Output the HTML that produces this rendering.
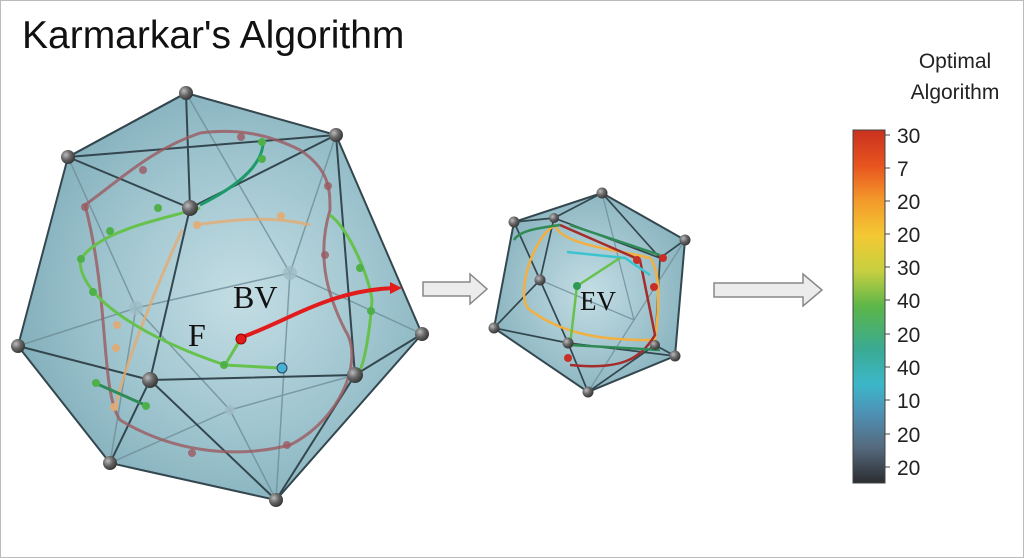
<!DOCTYPE html>
<html><head><meta charset="utf-8"><style>
body{margin:0;background:#fff}
svg{display:block}
text{font-family:"Liberation Sans",sans-serif}
</style></head><body>
<svg width="1024" height="558" viewBox="0 0 1024 558" xmlns="http://www.w3.org/2000/svg">
<defs>
<radialGradient id="g1" cx="0.55" cy="0.5" r="0.6">
<stop offset="0" stop-color="#c4dde4"/><stop offset="0.6" stop-color="#9cc3cd"/><stop offset="1" stop-color="#7eabb8"/></radialGradient>
<radialGradient id="g2" cx="0.5" cy="0.5" r="0.6">
<stop offset="0" stop-color="#c4dde4"/><stop offset="1" stop-color="#82afbb"/></radialGradient>
<radialGradient id="ball" cx="0.35" cy="0.35" r="0.7">
<stop offset="0" stop-color="#bbb"/><stop offset="0.5" stop-color="#666"/><stop offset="1" stop-color="#333"/></radialGradient>
<linearGradient id="cb" x1="0" y1="0" x2="0" y2="1">
<stop offset="0" stop-color="#c9301f"/><stop offset="0.1" stop-color="#e8541f"/><stop offset="0.2" stop-color="#f39a2a"/><stop offset="0.3" stop-color="#f3c933"/><stop offset="0.4" stop-color="#c6cf40"/><stop offset="0.5" stop-color="#5cb649"/><stop offset="0.62" stop-color="#3aaa92"/><stop offset="0.72" stop-color="#3cb7c9"/><stop offset="0.8" stop-color="#4e92b6"/><stop offset="0.9" stop-color="#55697d"/><stop offset="1" stop-color="#2b2d30"/></linearGradient>
</defs>
<rect x="0.5" y="0.5" width="1023" height="557" fill="#fff" stroke="#bbb"/>
<text x="22" y="48" font-size="39" fill="#111">Karmarkar's Algorithm</text>

<polygon points="186,93 336,135 422,334 276,500 110,463 18,346 68,157" fill="url(#g1)" stroke="#34474f" stroke-width="2"/>
<g stroke="#6e8d97" stroke-width="1.5" fill="none" opacity="0.8">
<path d="M186,93 L290,273 L422,334 M290,273 L136,308 L18,346 M136,308 L110,463 M290,273 L276,500 M136,308 L68,157 M290,273 L336,135 M136,308 L230,410 L355,375 M230,410 L110,463 M230,410 L276,500"/>
</g>
<g stroke="#34474f" stroke-width="2" fill="none">
<path d="M68,157 L190,208 L336,135 M186,93 L190,208 M190,208 L150,380 L18,346 M150,380 L355,375 L336,135 M355,375 L422,334 M355,375 L276,500 M150,380 L276,500 M150,380 L110,463 M68,157 L336,135 M186,93 L68,157"/>
</g>
<g fill="none" stroke-width="3">
<path d="M85,205 C120,180 150,150 200,133 C240,128 270,135 300,150 C330,170 330,190 330,210 C315,260 330,300 345,330 C365,360 340,420 290,445 C230,460 170,450 120,420 C100,390 110,300 85,205 Z" stroke="#9b5a5f" opacity="0.8"/>
<path d="M195,225 C230,220 270,215 310,225 M182,230 C150,300 120,380 115,410" stroke="#e3ab73" opacity="0.8"/>
<path d="M200,208 C160,220 100,230 80,260 C80,300 150,340 225,365 L280,368 M330,215 C350,230 370,280 372,300 C370,330 365,360 360,370" stroke="#66c24d"/>
<path d="M200,205 C230,190 260,170 263,145" stroke="#1d9a6a"/>
<path d="M95,383 L145,405" stroke="#2f8a55"/>
<path d="M240,338 C290,320 330,290 395,288" stroke="#e21c1c" stroke-width="4"/>
<path d="M225,365 L240,340" stroke="#66c24d"/>
</g>
<polygon points="390,282 402,288 390,294" fill="#e21c1c"/>
<g fill="#9b5a5f" opacity="0.8"><circle cx="85" cy="207" r="4"/><circle cx="143" cy="170" r="4"/><circle cx="241" cy="137" r="4"/><circle cx="328" cy="186" r="4"/><circle cx="325" cy="255" r="4"/><circle cx="192" cy="453" r="4"/><circle cx="287" cy="445" r="4"/></g>
<g fill="#e3ab73" opacity="0.9"><circle cx="197" cy="225" r="4"/><circle cx="281" cy="216" r="4"/><circle cx="117" cy="325" r="4"/><circle cx="116" cy="348" r="4"/><circle cx="114" cy="407" r="4"/></g>
<g fill="#4fb04a"><circle cx="81" cy="259" r="4"/><circle cx="93" cy="292" r="4"/><circle cx="110" cy="231" r="4"/><circle cx="158" cy="208" r="4"/><circle cx="224" cy="365" r="4"/><circle cx="360" cy="268" r="4"/><circle cx="371" cy="311" r="4"/><circle cx="262" cy="142" r="4"/><circle cx="262" cy="159" r="4"/><circle cx="146" cy="406" r="4"/><circle cx="96" cy="383" r="4"/></g>
<circle cx="241" cy="339" r="5" fill="#e21c1c" stroke="#900" />
<circle cx="282" cy="368" r="5" fill="#4ab0cf" stroke="#246"/>
<g fill="#9fbcc4" opacity="0.8"><circle cx="290" cy="273" r="7"/><circle cx="136" cy="308" r="7"/><circle cx="230" cy="410" r="5"/></g>
<g fill="url(#ball)"><circle cx="186" cy="93" r="7"/><circle cx="336" cy="135" r="7"/><circle cx="68" cy="157" r="7"/><circle cx="422" cy="334" r="7"/><circle cx="18" cy="346" r="7"/><circle cx="276" cy="500" r="7"/><circle cx="110" cy="463" r="7"/><circle cx="190" cy="208" r="8"/><circle cx="150" cy="380" r="8"/><circle cx="355" cy="375" r="8"/></g>
<text x="233" y="308" style="font-family:'Liberation Serif',serif;font-size:32px" fill="#111">BV</text>
<text x="188" y="346" style="font-family:'Liberation Serif',serif;font-size:32px" fill="#111">F</text>

<polygon points="423,282 470,282 470,274 487,289 470,304 470,296 423,296" fill="#ececec" stroke="#888" stroke-width="1.5"/>
<polygon points="714,283 803,283 803,274 822,290 803,306 803,297 714,297" fill="#ececec" stroke="#888" stroke-width="1.5"/>

<polygon points="602,193 685,240 675,356 588,392 494,328 514,222" fill="url(#g2)" stroke="#34474f" stroke-width="2"/>
<g stroke="#34474f" stroke-width="1.7" fill="none">
<path d="M514,222 L554,218 L602,193 M554,218 L660,258 L685,240 M554,218 L540,280 L494,328 M540,280 L568,343 L675,356 M568,343 L588,392 M568,343 L494,328 M660,258 L655,345 L675,356 M660,258 L602,193 M540,280 L514,222 M588,392 L655,345"/>
</g>
<g stroke="#6e8d97" stroke-width="1.3" fill="none" opacity="0.8"><path d="M634,320 L588,392 M634,320 L685,240 M634,320 L540,280 M634,320 L602,193"/></g>
<g fill="none" stroke-width="2.5">
<path d="M555,225 C530,240 515,300 530,310 C570,340 620,340 655,340 C660,300 660,270 650,258 C620,250 560,245 555,225" stroke="#f3b040"/>
<path d="M560,225 L640,260 L655,335 C640,360 620,370 570,365" stroke="#a42c2a"/>
<path d="M567,252 L625,258 L650,275" stroke="#3cc3cf"/>
<path d="M577,286 L620,258 M577,286 L570,345" stroke="#66c24d"/>
<path d="M514,240 C520,230 540,228 560,225 M570,225 L660,255 M570,345 L660,350" stroke="#2f8a55"/>
</g>
<g fill="#c83025"><circle cx="637" cy="260" r="4"/><circle cx="663" cy="258" r="4"/><circle cx="654" cy="287" r="4"/><circle cx="568" cy="358" r="4"/></g>
<circle cx="577" cy="286" r="4" fill="#2e9a55"/>
<g fill="url(#ball)"><circle cx="602" cy="193" r="5.5"/><circle cx="685" cy="240" r="5.5"/><circle cx="675" cy="356" r="5.5"/><circle cx="588" cy="392" r="5.5"/><circle cx="494" cy="328" r="5.5"/><circle cx="514" cy="222" r="5.5"/><circle cx="554" cy="218" r="5"/><circle cx="540" cy="280" r="5.5"/><circle cx="568" cy="343" r="5.5"/><circle cx="655" cy="345" r="5"/></g>
<text x="580" y="310" style="font-family:'Liberation Serif',serif;font-size:27px" fill="#111">EV</text>

<text x="955" y="68" font-size="21" fill="#222" text-anchor="middle">Optimal</text>
<text x="955" y="99" font-size="21" fill="#222" text-anchor="middle">Algorithm</text>
<rect x="853" y="130" width="32" height="353" fill="url(#cb)" stroke="#444"/>
<g stroke="#444"><line x1="885" y1="135" x2="890" y2="135"/><line x1="885" y1="168" x2="890" y2="168"/><line x1="885" y1="201" x2="890" y2="201"/><line x1="885" y1="234" x2="890" y2="234"/><line x1="885" y1="267" x2="890" y2="267"/><line x1="885" y1="300" x2="890" y2="300"/><line x1="885" y1="334" x2="890" y2="334"/><line x1="885" y1="367" x2="890" y2="367"/><line x1="885" y1="400" x2="890" y2="400"/><line x1="885" y1="434" x2="890" y2="434"/><line x1="885" y1="467" x2="890" y2="467"/></g>
<g font-size="21" fill="#222">
<text x="897" y="143">30</text><text x="897" y="176">7</text><text x="897" y="209">20</text><text x="897" y="242">20</text><text x="897" y="275">30</text><text x="897" y="308">40</text><text x="897" y="342">20</text><text x="897" y="375">40</text><text x="897" y="408">10</text><text x="897" y="442">20</text><text x="897" y="475">20</text>
</g>
</svg>
</body></html>
